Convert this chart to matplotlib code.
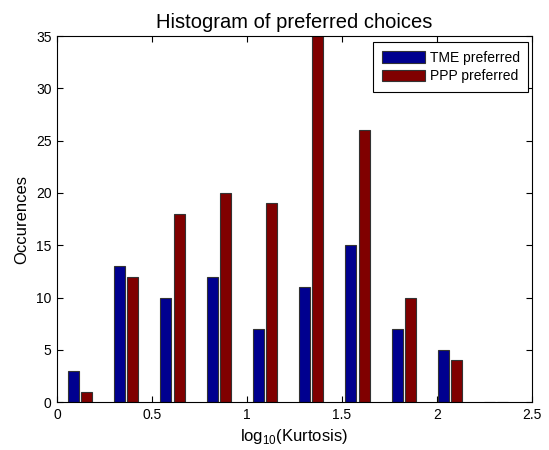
import numpy as np
import matplotlib
matplotlib.use("Agg")
import matplotlib.pyplot as plt

plt.rcParams['font.family'] = ['Liberation Sans', 'DejaVu Sans']
plt.rcParams['mathtext.fontset'] = 'custom'
plt.rcParams['mathtext.rm'] = 'Liberation Sans'

# Histogram counts per bin of log10(kurtosis)
bin_width = 0.2435
n_bins = 10
tme_counts = [3, 13, 10, 12, 7, 11, 15, 7, 5, 0]
ppp_counts = [1, 12, 18, 20, 19, 35, 26, 10, 4, 0]
series_labels = ['TME preferred', 'PPP preferred']
x_ticks = [0, 0.5, 1, 1.5, 2, 2.5]
x_tick_labels = ['0', '0.5', '1', '1.5', '2', '2.5']
y_ticks = [0, 5, 10, 15, 20, 25, 30, 35]

centers = (np.arange(n_bins) + 0.5) * bin_width
offset = 0.035
bw = 0.058

fig = plt.figure(figsize=(5.49, 4.5), dpi=100)
ax = fig.add_axes([0.1038, 0.106, 0.8647, 0.814])

ax.bar(centers - offset, tme_counts, width=bw, color='#00008f',
       edgecolor='#333333', linewidth=0.8, label=series_labels[0])
ax.bar(centers + offset, ppp_counts, width=bw, color='#800000',
       edgecolor='#333333', linewidth=0.8, label=series_labels[1])

ax.set_xlim(0, 2.5)
ax.set_ylim(0, 35)
ax.set_xticks(x_ticks)
ax.set_xticklabels(x_tick_labels)
ax.set_yticks(y_ticks)
ax.tick_params(direction='in', length=4, width=0.8, labelsize=10,
               top=True, right=True, pad=4)
for s in ax.spines.values():
    s.set_linewidth(0.8)

ax.set_xlabel(r'log$_{\mathrm{10}}$(Kurtosis)', fontsize=12, labelpad=4)
ax.set_ylabel('Occurences', fontsize=12, labelpad=5)
ax.set_title('Histogram of preferred choices', fontsize=14.5, pad=6)

leg = ax.legend(loc='upper right', bbox_to_anchor=(0.992, 0.983),
                fontsize=10, fancybox=False, edgecolor='black',
                framealpha=1, handlelength=3.15, handleheight=0.9,
                borderpad=0.6, labelspacing=0.35, handletextpad=0.3,
                borderaxespad=0)
leg.get_frame().set_linewidth(0.8)

fig.savefig('out.png', dpi=100)
